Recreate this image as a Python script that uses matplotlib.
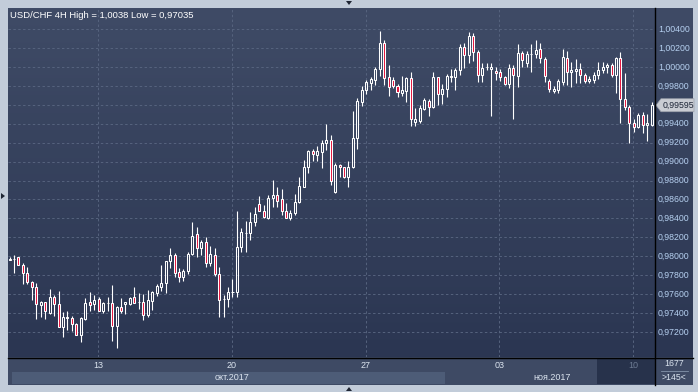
import numpy as np
import matplotlib.pyplot as plt
from matplotlib.patches import Rectangle, Polygon
from matplotlib.lines import Line2D
from matplotlib.colors import LinearSegmentedColormap

plt.rcParams['font.family'] = ['Liberation Sans', 'DejaVu Sans']

# USD/CHF 4H candles (145 visible bars)
opens = [
    0.97964, 0.97967, 0.97988, 0.97911, 0.97820, 0.97724, 0.97679, 0.97488, 0.97513, 0.97404,
    0.97566, 0.97492, 0.97256, 0.97348, 0.97348, 0.97284, 0.97172, 0.97341, 0.97513, 0.97492,
    0.97548, 0.97425, 0.97503, 0.97503, 0.97267, 0.97464, 0.97496, 0.97492, 0.97573, 0.97521,
    0.97521, 0.97380, 0.97531, 0.97616, 0.97679, 0.97721, 0.97946, 0.98013, 0.97830, 0.97778,
    0.97848, 0.98020, 0.98232, 0.98084, 0.98147, 0.97925, 0.98013, 0.97813, 0.97545, 0.97545,
    0.97619, 0.97619, 0.98101, 0.98242, 0.98242, 0.98358, 0.98552, 0.98482, 0.98408, 0.98612,
    0.98647, 0.98601, 0.98482, 0.98408, 0.98460, 0.98577, 0.98735, 0.98939, 0.99112, 0.99069,
    0.99104, 0.99200, 0.99228, 0.98682, 0.98964, 0.98939, 0.98841, 0.98939, 0.99245, 0.99633,
    0.99756, 0.99833, 0.99861, 0.99974, 1.00249, 0.99890, 0.99861, 0.99798, 0.99721, 0.99749,
    0.99879, 0.99421, 0.99432, 0.99555, 0.99640, 0.99573, 0.99890, 0.99714, 0.99763, 0.99897,
    0.99897, 0.99967, 1.00206, 1.00125, 1.00326, 1.00161, 0.99914, 1.00000, 0.99974, 0.99960,
    0.99942, 0.99890, 0.99819, 0.99985, 0.99904, 1.00150, 1.00037, 1.00136, 1.00132, 1.00185,
    1.00080, 0.99854, 0.99749, 0.99756, 0.99844, 1.00090, 0.99949, 0.99960, 0.99974, 0.99914,
    0.99854, 0.99861, 0.99914, 0.99967, 0.99995, 1.00020, 0.99914, 1.00090, 0.99657, 0.99573,
    0.99404, 0.99362, 0.99492, 0.99386, 0.99390,
]
highs = [
    0.97988, 0.98009, 0.97995, 0.97925, 0.97883, 0.97742, 0.97714, 0.97527, 0.97513, 0.97654,
    0.97591, 0.97636, 0.97415, 0.97418, 0.97369, 0.97298, 0.97355, 0.97563, 0.97619, 0.97591,
    0.97566, 0.97517, 0.97566, 0.97697, 0.97474, 0.97559, 0.97517, 0.97573, 0.97672, 0.97616,
    0.97602, 0.97644, 0.97637, 0.97707, 0.97908, 0.97954, 0.98091, 0.98038, 0.97873, 0.97866,
    0.98041, 0.98365, 0.98306, 0.98172, 0.98200, 0.98108, 0.98084, 0.97890, 0.97591, 0.97672,
    0.97756, 0.98478, 0.98295, 0.98372, 0.98464, 0.98517, 0.98636, 0.98541, 0.98647, 0.98805,
    0.98728, 0.98710, 0.98566, 0.98489, 0.98658, 0.98841, 0.99017, 0.99122, 0.99129, 0.99164,
    0.99228, 0.99397, 0.99281, 0.98988, 0.98974, 0.98946, 0.99006, 0.99534, 0.99668, 0.99798,
    0.99861, 0.99890, 0.99995, 1.00380, 1.00284, 1.00020, 0.99890, 0.99819, 0.99904, 0.99897,
    0.99949, 0.99562, 0.99597, 0.99668, 0.99657, 0.99949, 0.99897, 0.99819, 0.99925, 0.99974,
    0.99985, 1.00242, 1.00256, 1.00372, 1.00354, 1.00178, 1.00037, 1.00037, 1.00037, 0.99995,
    0.99974, 0.99904, 1.00030, 1.00020, 1.00242, 1.00171, 1.00171, 1.00242, 1.00284, 1.00249,
    1.00101, 0.99868, 0.99798, 0.99868, 1.00185, 1.00171, 1.00055, 1.00080, 1.00037, 0.99932,
    0.99904, 0.99949, 1.00055, 1.00055, 1.00044, 1.00037, 1.00101, 1.00161, 0.99939, 0.99597,
    0.99446, 0.99509, 0.99527, 0.99502, 0.99633,
]
lows = [
    0.97960, 0.97827, 0.97904, 0.97710, 0.97710, 0.97538, 0.97334, 0.97355, 0.97341, 0.97390,
    0.97372, 0.97256, 0.97151, 0.97221, 0.97214, 0.97165, 0.97094, 0.97327, 0.97425, 0.97432,
    0.97425, 0.97397, 0.97425, 0.97105, 0.97035, 0.97404, 0.97386, 0.97485, 0.97503, 0.97440,
    0.97327, 0.97362, 0.97433, 0.97580, 0.97637, 0.97616, 0.97873, 0.97785, 0.97732, 0.97742,
    0.97813, 0.98013, 0.97996, 0.98013, 0.97890, 0.97897, 0.97792, 0.97355, 0.97355, 0.97468,
    0.97566, 0.97566, 0.98049, 0.98049, 0.98172, 0.98323, 0.98475, 0.98401, 0.98394, 0.98524,
    0.98517, 0.98436, 0.98401, 0.98383, 0.98436, 0.98559, 0.98735, 0.98883, 0.99006, 0.99010,
    0.98936, 0.99122, 0.98756, 0.98672, 0.98841, 0.98823, 0.98735, 0.98928, 0.99133, 0.99587,
    0.99714, 0.99756, 0.99809, 0.99904, 0.99809, 0.99692, 0.99773, 0.99685, 0.99692, 0.99633,
    0.99376, 0.99376, 0.99411, 0.99545, 0.99481, 0.99562, 0.99597, 0.99608, 0.99685, 0.99844,
    0.99756, 0.99914, 0.99985, 1.00037, 1.00066, 0.99844, 0.99844, 0.99967, 0.99481, 0.99861,
    0.99854, 0.99809, 0.99773, 0.99446, 0.99791, 1.00002, 1.00002, 0.99949, 1.00090, 1.00037,
    0.99844, 0.99738, 0.99728, 0.99721, 0.99809, 0.99809, 0.99791, 0.99833, 0.99826, 0.99826,
    0.99826, 0.99826, 0.99868, 0.99932, 0.99939, 0.99897, 0.99728, 0.99411, 0.99545, 0.99193,
    0.99316, 0.99351, 0.99298, 0.99221, 0.99376,
]
closes = [
    0.97975, 0.97970, 0.97911, 0.97820, 0.97724, 0.97672, 0.97492, 0.97513, 0.97418, 0.97566,
    0.97492, 0.97256, 0.97355, 0.97355, 0.97281, 0.97172, 0.97348, 0.97503, 0.97481, 0.97538,
    0.97425, 0.97503, 0.97506, 0.97267, 0.97467, 0.97418, 0.97517, 0.97559, 0.97510, 0.97521,
    0.97380, 0.97538, 0.97619, 0.97690, 0.97714, 0.97946, 0.98010, 0.97827, 0.97778, 0.97848,
    0.98020, 0.98218, 0.98084, 0.98154, 0.97932, 0.98020, 0.97813, 0.97538, 0.97548, 0.97619,
    0.97626, 0.98101, 0.98253, 0.98246, 0.98358, 0.98446, 0.98482, 0.98411, 0.98612, 0.98647,
    0.98587, 0.98482, 0.98408, 0.98453, 0.98577, 0.98742, 0.98939, 0.99112, 0.99080, 0.99112,
    0.99193, 0.99228, 0.98798, 0.98964, 0.98939, 0.98841, 0.98946, 0.99245, 0.99640, 0.99756,
    0.99837, 0.99868, 0.99974, 1.00249, 0.99879, 0.99784, 0.99798, 0.99731, 0.99756, 0.99879,
    0.99446, 0.99450, 0.99562, 0.99650, 0.99573, 0.99890, 0.99714, 0.99766, 0.99904, 0.99904,
    0.99967, 1.00206, 1.00125, 1.00326, 1.00154, 0.99914, 0.99985, 1.00002, 1.00002, 0.99932,
    0.99890, 0.99819, 0.99985, 0.99914, 1.00150, 1.00073, 1.00136, 1.00140, 1.00178, 1.00090,
    0.99904, 0.99763, 0.99766, 0.99851, 1.00101, 0.99949, 0.99967, 0.99974, 0.99914, 0.99854,
    0.99868, 0.99914, 0.99967, 0.99995, 1.00020, 0.99914, 1.00090, 0.99657, 0.99573, 0.99404,
    0.99362, 0.99492, 0.99386, 0.99404, 0.99595,
]

price_levels = np.round(np.arange(0.972, 1.0041, 0.002), 3)
day_bars = [20, 50, 80, 110, 140]
day_labels = ['13', '20', '27', '03', '10']
last_price = 0.99595

W, H = 698, 392
fig = plt.figure(figsize=(W / 100, H / 100), dpi=100, facecolor='#c2ccd9')

def fax(x0, y0, x1, y1):
    return fig.add_axes([x0 / W, 1 - y1 / H, (x1 - x0) / W, (y1 - y0) / H])

def fx(px):
    return px / W

def fy(py):
    return 1 - py / H

bg = LinearSegmentedColormap.from_list('bg', ['#3f4b66', '#2b3652'])
grad = np.linspace(0, 1, 256).reshape(-1, 1)

ymin, ymax = 0.969363, 1.006218
xmin, xmax = -0.34, 144.74

# main chart
ax = fax(8, 8, 655, 357)
ax.set_xlim(xmin, xmax)
ax.set_ylim(ymin, ymax)
ax.imshow(grad, cmap=bg, extent=[xmin, xmax, ymin, ymax], aspect='auto', zorder=0)
ax.axis('off')

for v in price_levels:
    ax.axhline(v, color='#56637e', lw=0.7, ls=(0, (2.5, 2.5)), zorder=1)
for d in day_bars:
    ax.axvline(d - 0.15, color='#56637e', lw=0.7, ls=(0, (2.5, 2.5)), zorder=1)

bw = 0.45
for i in range(len(opens)):
    o, h, l, c = opens[i], highs[i], lows[i], closes[i]
    top, bot = max(o, c), min(o, c)
    ax.vlines(i, top, h, color='white', lw=0.8, zorder=2)
    ax.vlines(i, l, bot, color='white', lw=0.8, zorder=2)
    face = 'none' if c >= o else '#e3123b'
    ax.add_patch(Rectangle((i - bw / 2, bot), bw, max(top - bot, 0.00001),
                           facecolor=face, edgecolor='white', lw=0.75, zorder=3))

# right price scale
axr = fax(655, 8, 693, 357)
axr.set_xlim(0, 1)
axr.set_ylim(ymin, ymax)
axr.imshow(grad, cmap=bg, extent=[0, 1, ymin, ymax], aspect='auto', zorder=0)
axr.axis('off')
for v in price_levels:
    if abs(v - last_price) < 0.0008:
        continue  # hidden behind the last-price tag
    axr.text(0.08, v, f'{v:.5f}'.replace('.', ','), color='#b6d0f0', fontsize=6.3,
             va='center', ha='left')

# last price tag
yp = (1 - (last_price - ymin) / (ymax - ymin)) * 349 + 8
tag = Polygon([(fx(656), fy(yp)), (fx(661), fy(yp - 6.5)), (fx(694), fy(yp - 6.5)),
               (fx(694), fy(yp + 6.5)), (fx(661), fy(yp + 6.5))], closed=True,
              transform=fig.transFigure, facecolor='#c9ccd3', edgecolor='#9aa0aa', lw=0.5)
fig.patches.append(tag)
fig.text(fx(663), fy(yp), f'{last_price:.5f}'.replace('.', ','), color='#1c2436',
         fontsize=6.3, va='center', ha='left')

# bottom time scale
def frect(x0, y0, x1, y1, color):
    fig.patches.append(Rectangle((fx(x0), fy(y1)), fx(x1) - fx(x0), fy(y0) - fy(y1),
                                 transform=fig.transFigure, facecolor=color, lw=0))

frect(8, 357, 693, 385, '#3e4a64')
frect(12, 372, 445, 384, '#4d5c77')
frect(597, 359, 655, 384, '#27324b')

for d, lab in zip(day_bars, day_labels):
    px = 8 + (d - 0.15 - xmin) / (xmax - xmin) * 647
    col = '#6c7a92' if lab == '10' else '#dbe4ef'
    fig.text(fx(px), fy(366), lab, color=col, fontsize=6.5, ha='center', va='center')
fig.text(fx(232), fy(378), 'окт.2017', color='#dbe4ef', fontsize=6.5, ha='center', va='center')
fig.text(fx(552), fy(378), 'ноя.2017', color='#dbe4ef', fontsize=6.5, ha='center', va='center')

fig.text(fx(674), fy(364), '1677', color='#dbe4ef', fontsize=6.3, ha='center', va='center')
fig.text(fx(674), fy(378), '>145<', color='#dbe4ef', fontsize=6.3, ha='center', va='center')
fig.lines.append(Line2D([fx(661), fx(688)], [fy(371), fy(371)], transform=fig.transFigure,
                        color='#8493aa', lw=0.6))

# separators
fig.lines.append(Line2D([fx(655), fx(655)], [fy(8), fy(385)], transform=fig.transFigure,
                        color='black', lw=1.0))
fig.lines.append(Line2D([fx(8), fx(693)], [fy(357.5), fy(357.5)], transform=fig.transFigure,
                        color='black', lw=1.0))

# small frame arrows
for pts in ([(346, 1), (352, 1), (349, 5)], [(346, 391), (352, 391), (349, 387)],
            [(1, 193), (1, 199), (5, 196)]):
    fig.patches.append(Polygon([(fx(a), fy(b)) for a, b in pts], closed=True,
                               transform=fig.transFigure, facecolor='#1e2533', lw=0))

fig.text(fx(10), fy(16), 'USD/CHF 4H High = 1,0038 Low = 0,97035', color='white',
         fontsize=6.8, ha='left', va='center')

fig.savefig('out.png', dpi=100, facecolor=fig.get_facecolor())
